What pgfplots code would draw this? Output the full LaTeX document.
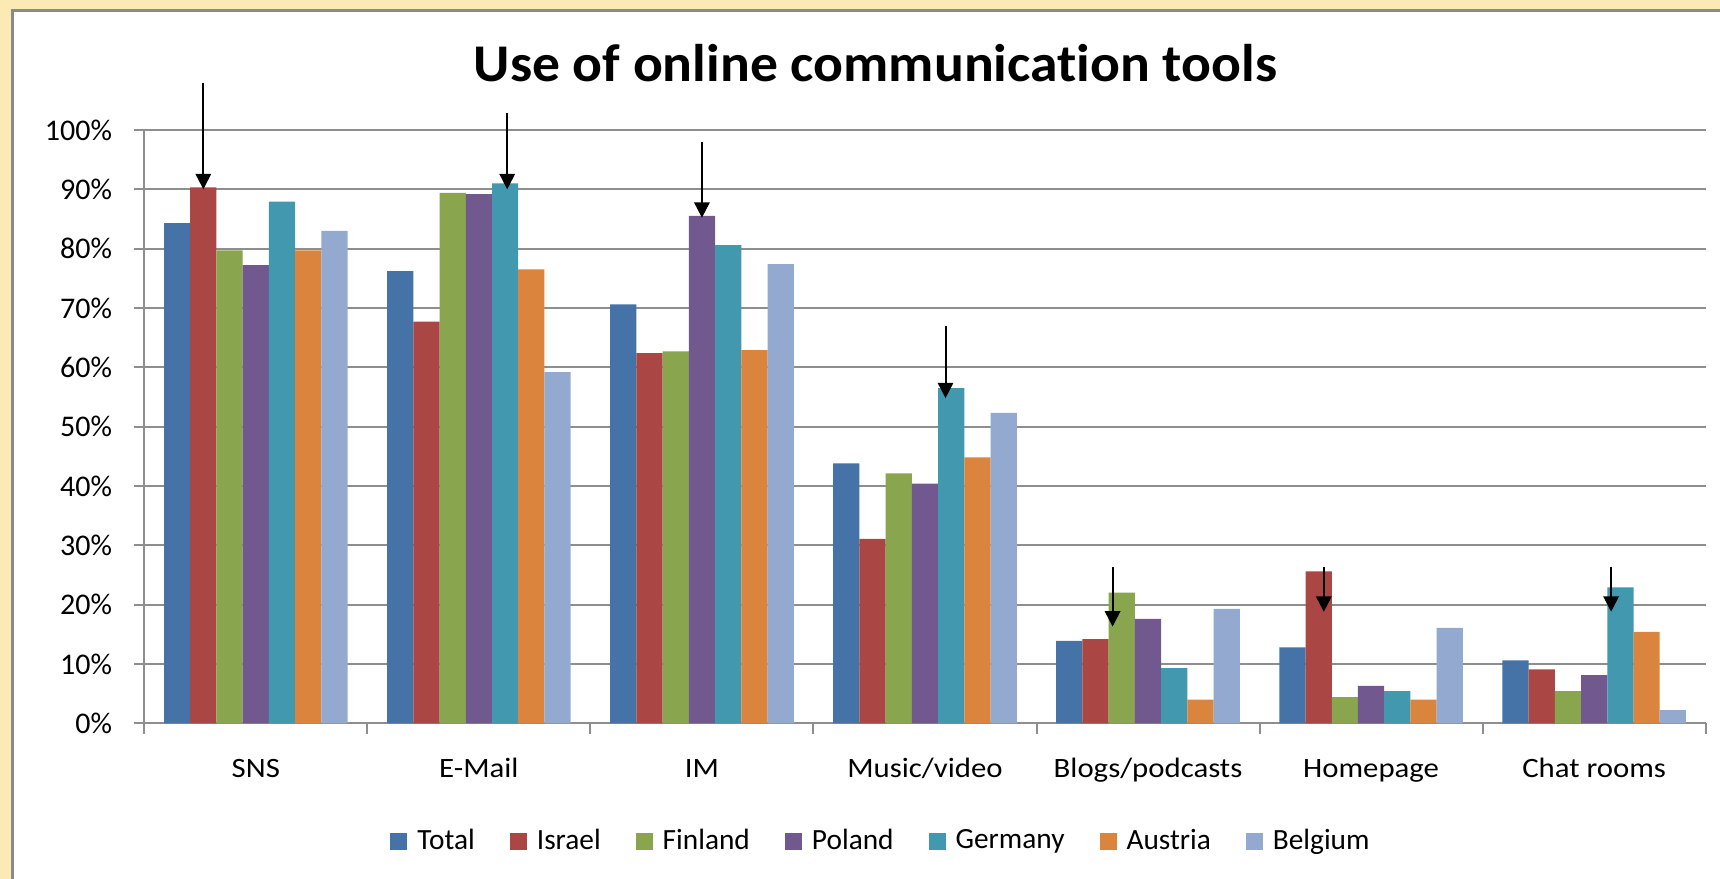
\documentclass[border=0pt]{standalone}
\usepackage{fontspec}
\setmainfont{Carlito}[Ligatures=NoCommon]
\usepackage{pgfplots}
\usepackage{pgfplotstable}
\pgfplotsset{compat=1.18}
\usetikzlibrary{arrows.meta}

\definecolor{cTotal}{HTML}{4572A7}
\definecolor{cIsrael}{HTML}{AA4643}
\definecolor{cFinland}{HTML}{89A54E}
\definecolor{cPoland}{HTML}{71588F}
\definecolor{cGermany}{HTML}{4198AF}
\definecolor{cAustria}{HTML}{DB843D}
\definecolor{cBelgium}{HTML}{93A9CF}
\definecolor{gridgray}{HTML}{8E8E8E}
\definecolor{framegray}{HTML}{8A8A8A}
\definecolor{beige}{HTML}{FCEAB4}

\pgfplotstableread{
x Total Israel Finland Poland Germany Austria Belgium
0 84.3 90.3 79.7 77.2 87.9 79.7 83.0
1 76.2 67.7 89.4 89.2 91.0 76.5 59.2
2 70.6 62.4 62.7 85.5 80.6 62.9 77.4
3 43.8 31.1 42.1 40.4 56.5 44.8 52.3
4 13.9 14.2 22.0 17.6 9.3 4.0 19.3
5 12.8 25.6 4.4 6.3 5.4 4.0 16.1
6 10.6 9.1 5.4 8.1 22.9 15.4 2.2
}\datatable

\begin{document}
\begin{tikzpicture}
\useasboundingbox (0pt,0pt) rectangle (516pt,263.7pt);
\fill[beige] (0pt,0pt) rectangle (516pt,263.7pt);
\fill[white] (3.6pt,0pt) rectangle (516pt,260.4pt);
\draw[framegray, line width=0.9pt] (3.6pt,0pt) -- (3.6pt,260.4pt) -- (516pt,260.4pt);

\node[anchor=base, font=\fontsize{15.9pt}{18pt}\selectfont\bfseries, xscale=1.05, inner sep=0pt]
  at (262.65pt,239.1pt) {Use of online communication tools};

\begin{axis}[
  at={(43.29pt,46.71pt)}, anchor=south west,
  scale only axis,
  width=468.42pt, height=178.0pt,
  xmin=-0.5, xmax=6.5, ymin=0, ymax=100,
  clip=false,
  axis lines*=left,
  axis line style={draw=gridgray, line width=0.6pt},
  tick align=outside,
  major tick length=3.1pt,
  tick style={draw=gridgray, line width=0.6pt},
  ymajorgrids=true,
  grid style={draw=gridgray, line width=0.6pt},
  ytick={0,10,...,100},
  yticklabels={0\%,10\%,20\%,30\%,40\%,50\%,60\%,70\%,80\%,90\%,100\%},
  yticklabel style={anchor=east, inner sep=0pt, xshift=-6.4pt,
    font=\fontsize{9pt}{10pt}\selectfont},
  xtick={-0.5,0.5,...,6.5},
  xticklabels={},
  extra x ticks={0,1,2,3,4,5,6},
  extra x tick labels={SNS,E-Mail,IM,Music/video,Blogs/podcasts,Homepage,Chat rooms},
  extra x tick style={major tick length=0pt, grid=none,
    xticklabel style={anchor=base, inner sep=0pt, yshift=-16.4pt, xscale=1.1,
      font=\fontsize{8.4pt}{10pt}\selectfont}},
  ybar=0pt,
  bar width=0.1176,
  legend columns=7,
  legend style={draw=none, fill=none, at={(0.4712,-0.1996)}, anchor=center,
    font=\fontsize{8.8pt}{10pt}\selectfont,
    inner sep=0pt,
    nodes={inner sep=0pt},
    /tikz/every odd column/.append style={column sep=3pt},
    /tikz/every even column/.append style={column sep=10.5pt}},
  legend image code/.code={\fill[#1] (0pt,-2.55pt) rectangle (5.1pt,2.55pt);},
]
\addplot[fill=cTotal, draw=none] table[x=x,y=Total]{\datatable};
\addplot[fill=cIsrael, draw=none] table[x=x,y=Israel]{\datatable};
\addplot[fill=cFinland, draw=none] table[x=x,y=Finland]{\datatable};
\addplot[fill=cPoland, draw=none] table[x=x,y=Poland]{\datatable};
\addplot[fill=cGermany, draw=none] table[x=x,y=Germany]{\datatable};
\addplot[fill=cAustria, draw=none] table[x=x,y=Austria]{\datatable};
\addplot[fill=cBelgium, draw=none] table[x=x,y=Belgium]{\datatable};
\legend{Total,Israel,Finland,Poland,Germany,Austria,Belgium}

\begin{scope}[-{Triangle[width=4.6pt,length=4.6pt]}, line width=0.6pt, black]
\draw (axis cs:-0.2353,107.9) -- (axis cs:-0.2353,90.0);
\draw (axis cs:1.127,102.8) -- (axis cs:1.127,90.0);
\draw (axis cs:2.0,97.9) -- (axis cs:2.0,85.2);
\draw (axis cs:3.092,67.0) -- (axis cs:3.092,54.8);
\draw (axis cs:3.841,26.3) -- (axis cs:3.841,16.3);
\draw (axis cs:4.788,26.4) -- (axis cs:4.788,18.8);
\draw (axis cs:6.076,26.4) -- (axis cs:6.076,18.8);
\end{scope}
\end{axis}
\end{tikzpicture}
\end{document}
